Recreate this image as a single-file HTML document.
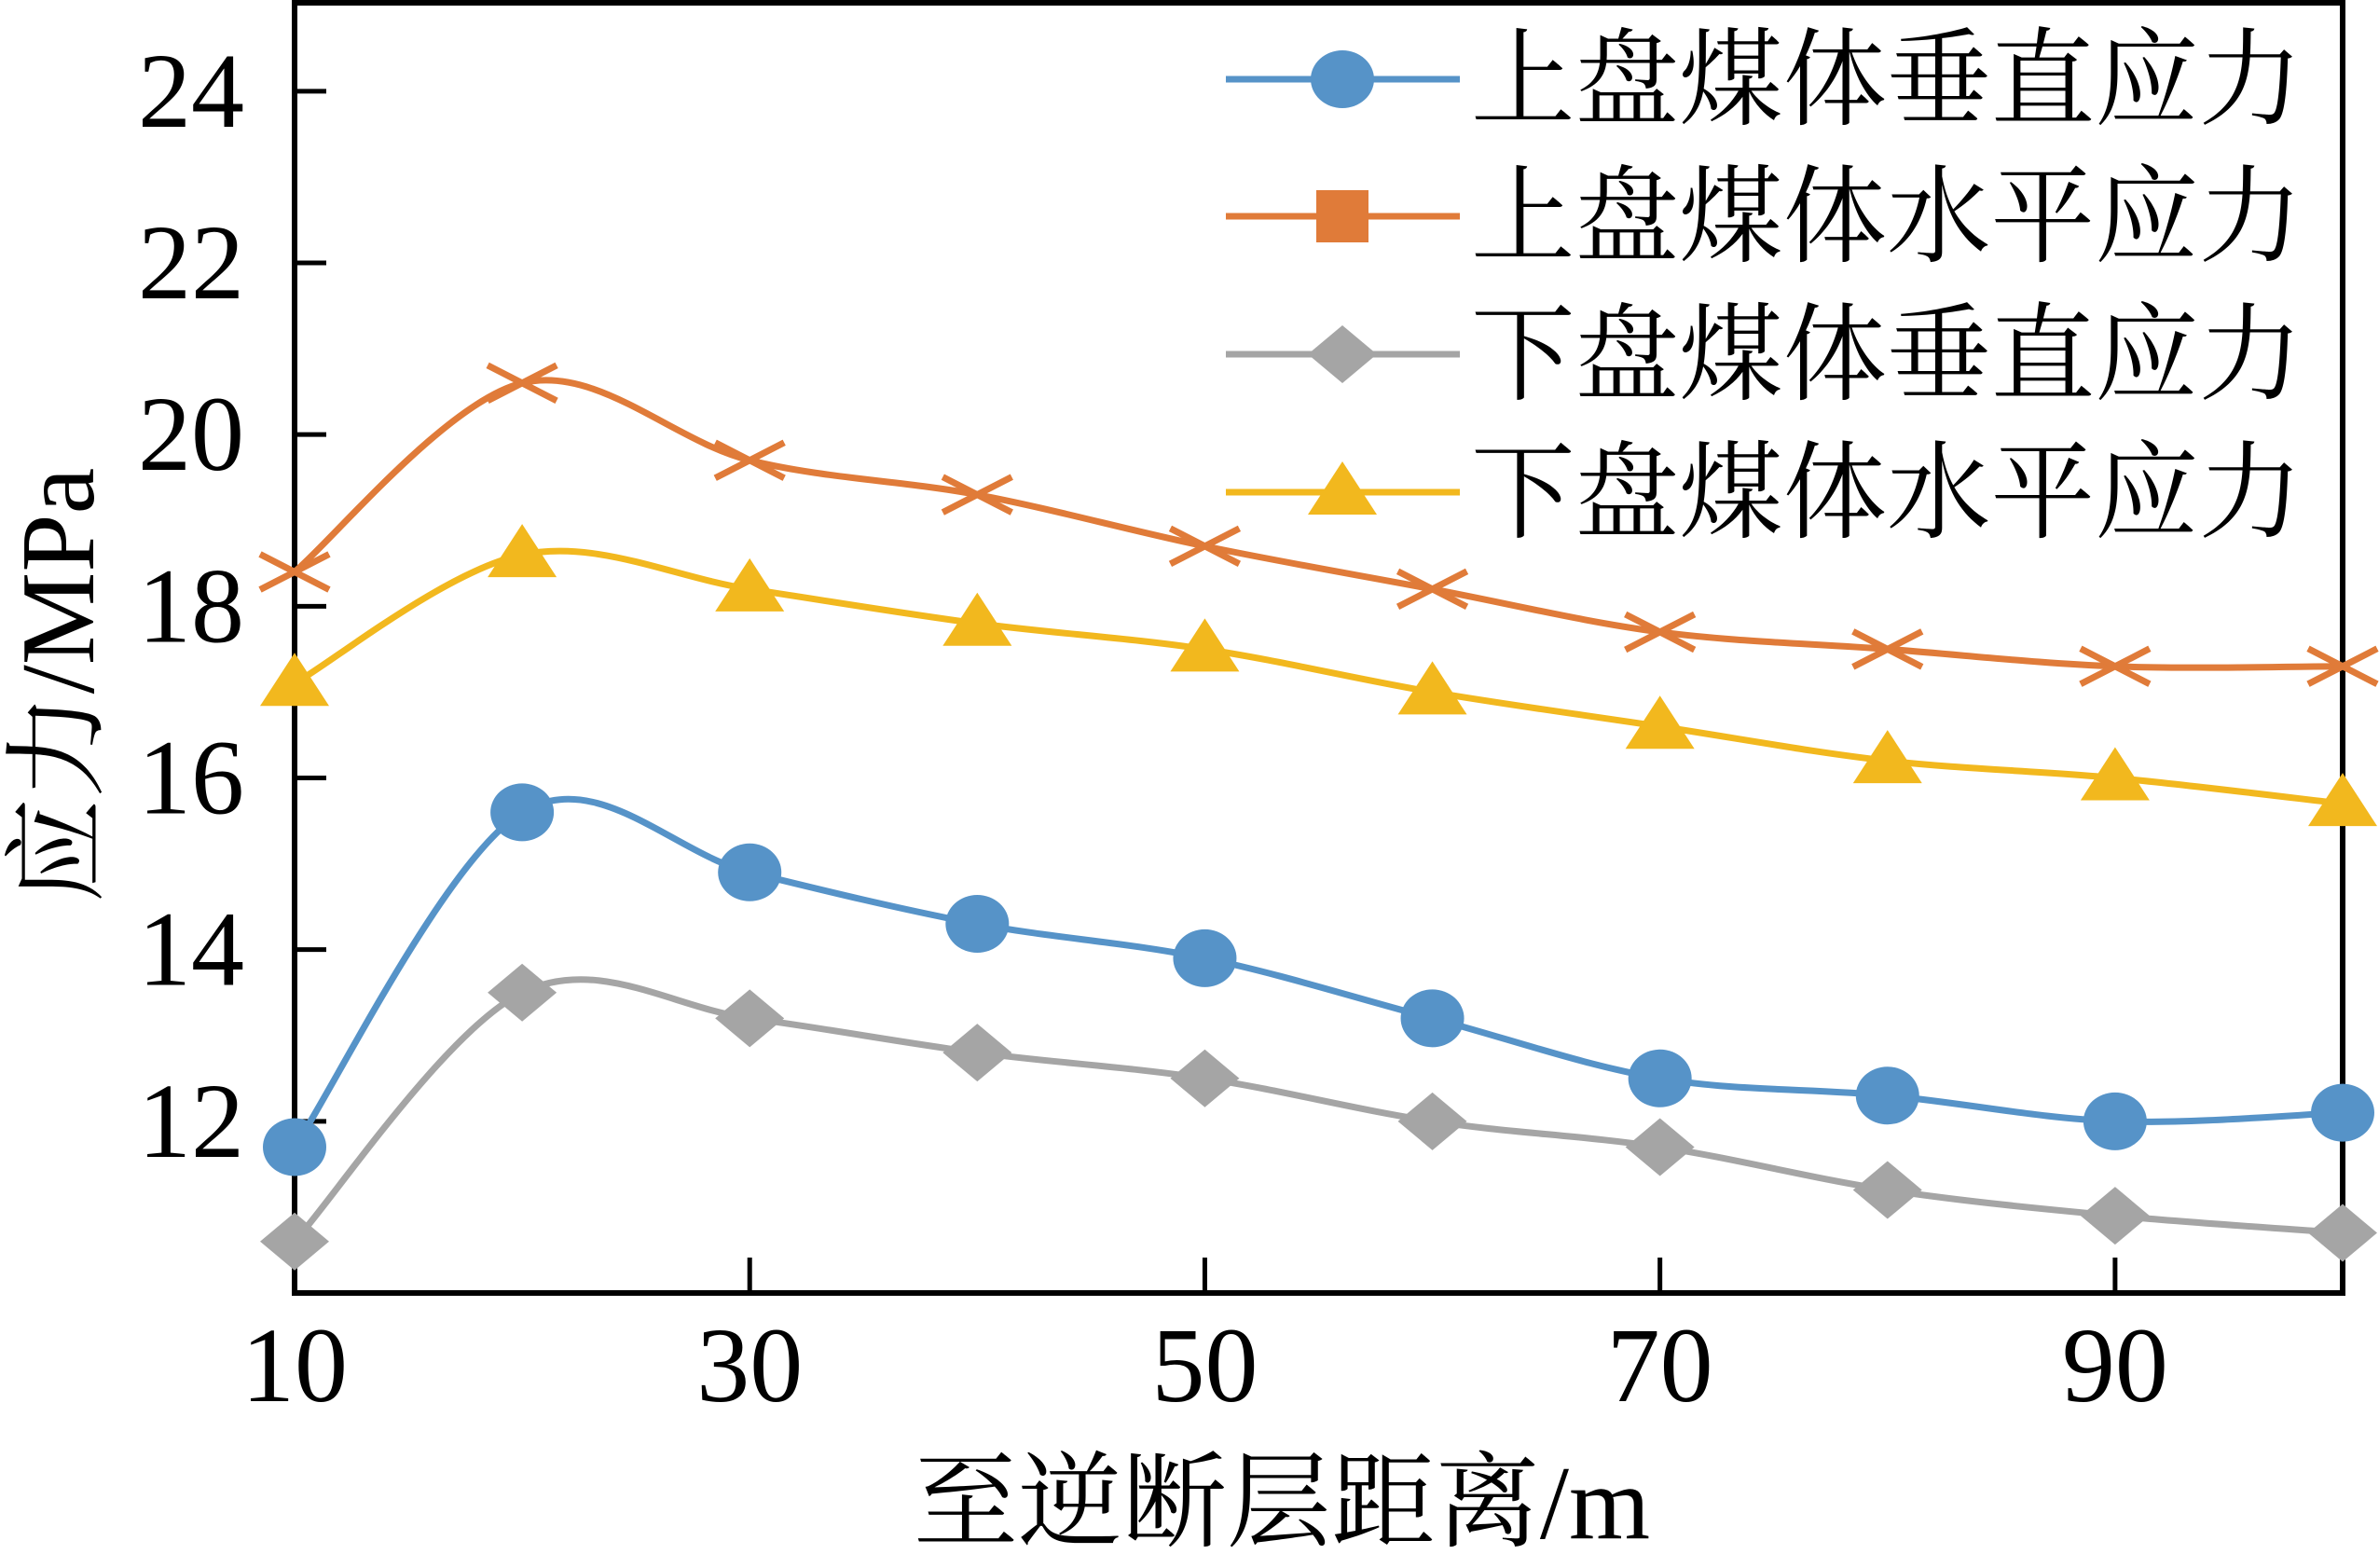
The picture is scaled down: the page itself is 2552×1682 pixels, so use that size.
<!DOCTYPE html>
<html><head><meta charset="utf-8">
<style>
html,body{margin:0;padding:0;background:#fff;}
svg{display:block;}
text{font-family:"Liberation Serif","Noto Serif CJK SC",serif;fill:#000;}
</style></head>
<body>
<svg id="chart" width="2552" height="1682" viewBox="0 0 2552 1682" xmlns="http://www.w3.org/2000/svg"></svg>
<script>
const categories = [10,20,30,40,50,60,70,80,90,100];
const hwVertical = [11.7,15.6,14.9,14.3,13.9,13.2,12.5,12.3,12.0,12.1];
const hwHorizontal = [18.4,20.6,19.7,19.3,18.7,18.2,17.7,17.5,17.3,17.3];
const fwVertical = [10.6,13.5,13.2,12.8,12.5,12.0,11.7,11.2,10.9,10.7];
const fwHorizontal = [17.1,18.6,18.2,17.8,17.5,17.0,16.6,16.2,16.0,15.7];
const yTicks = [12,14,16,18,20,22,24];
const xTicks = [10,30,50,70,90];
const legendLabels = ["上盘煤体垂直应力","上盘煤体水平应力","下盘煤体垂直应力","下盘煤体水平应力"];

const NS="http://www.w3.org/2000/svg";
const svg=document.getElementById('chart');
const L=316,R=2513,T=3,B=1387;
const xMin=10,xMax=100,yMin=10,yMax=25.03;
function X(v){return L+(v-xMin)/(xMax-xMin)*(R-L);}
function Y(v){return B-(v-yMin)/(yMax-yMin)*(B-T);}
function mk(tag,attrs,parent){const e=document.createElementNS(NS,tag);for(const k in attrs)e.setAttribute(k,attrs[k]);(parent||svg).appendChild(e);return e;}

const ax=mk('g',{});


mk('rect',{x:L,y:T,width:R-L,height:B-T,fill:'none',stroke:'#000','stroke-width':6},ax);
yTicks.forEach(v=>{
  const y=Y(v);
  const t=mk('line',{x1:L,y1:y,x2:L+34,y2:y,stroke:'#000','stroke-width':5},ax);
  
  
  const lb=mk('text',{x:262,y:y+38,'text-anchor':'end','font-size':114},ax);
  lb.textContent=v;
  
  
});
xTicks.forEach(v=>{
  const x=X(v);
  const t=mk('line',{x1:x,y1:B,x2:x,y2:B-38,stroke:'#000','stroke-width':5},ax);
  
  
  const lb=mk('text',{x:x,y:1503,'text-anchor':'middle','font-size':114},ax);
  lb.textContent=v;
  
  
});
const xt=mk('text',{x:1375,y:1650,'text-anchor':'middle','font-size':112});
xt.textContent='至逆断层距离/m';


const yt=mk('text',{x:0,y:0,'text-anchor':'middle','font-size':112,transform:'translate(100,735) rotate(-90)'});
yt.textContent='应力/MPa';



function smoothPath(pts){
  let d='M'+pts[0][0]+','+pts[0][1];
  for(let i=0;i<pts.length-1;i++){
    const p0=pts[i-1]||pts[i],p1=pts[i],p2=pts[i+1],p3=pts[i+2]||p2;
    const t=1/6;
    const c1=[p1[0]+(p2[0]-p0[0])*t,p1[1]+(p2[1]-p0[1])*t];
    const c2=[p2[0]-(p3[0]-p1[0])*t,p2[1]-(p3[1]-p1[1])*t];
    d+=' C'+c1[0]+','+c1[1]+' '+c2[0]+','+c2[1]+' '+p2[0]+','+p2[1];
  }
  return d;
}
function marker(type,x,y,color,parent){
  if(type==='circle') return mk('ellipse',{cx:x,cy:y,rx:34,ry:31,fill:color},parent);
  if(type==='diamond') return mk('polygon',{points:`${x},${y-31} ${x+37},${y} ${x},${y+31} ${x-37},${y}`,fill:color},parent);
  if(type==='triangle') return mk('polygon',{points:`${x},${y-33} ${x+37},${y+24} ${x-37},${y+24}`,fill:color},parent);
  if(type==='square') return mk('rect',{x:x-28,y:y-28,width:56,height:56,fill:color},parent);
  if(type==='x'){const g=mk('g',{},parent);mk('path',{d:`M${x-37},${y-19} L${x+37},${y+19} M${x-37},${y+19} L${x+37},${y-19}`,stroke:color,'stroke-width':7,fill:'none'},g);return g;}
}
const series=[
  {name:'hw-vertical',data:hwVertical,color:'#5693c8',m:'circle',lm:'circle'},
  {name:'hw-horizontal',data:hwHorizontal,color:'#e07b39',m:'x',lm:'square'},
  {name:'fw-vertical',data:fwVertical,color:'#a5a5a5',m:'diamond',lm:'diamond'},
  {name:'fw-horizontal',data:fwHorizontal,color:'#f2b81e',m:'triangle',lm:'triangle'}
];
series.forEach(s=>{
  const g=mk('g',{});
  
  
  const pts=categories.map((c,i)=>[X(c),Y(s.data[i])]);
  const p=mk('path',{d:smoothPath(pts),fill:'none',stroke:s.color,'stroke-width':7},g);
  
  
  pts.forEach(pt=>{
    const m=marker(s.m,pt[0],pt[1],s.color,g);
    
    
  });
});
const lg=mk('g',{});


const rowsY=[85,232,380,528];
series.forEach((s,i)=>{
  const y=rowsY[i];
  const e=mk('g',{},lg);
  
  
  mk('line',{x1:1315,y1:y,x2:1566,y2:y,stroke:s.color,'stroke-width':7},e);
  marker(s.lm,1440,y,s.color,e);
  const t=mk('text',{x:1578,y:y+40,'font-size':114,textLength:892,lengthAdjust:'spacingAndGlyphs'},e);
  t.textContent=legendLabels[i];
});
</script>
</body></html>
